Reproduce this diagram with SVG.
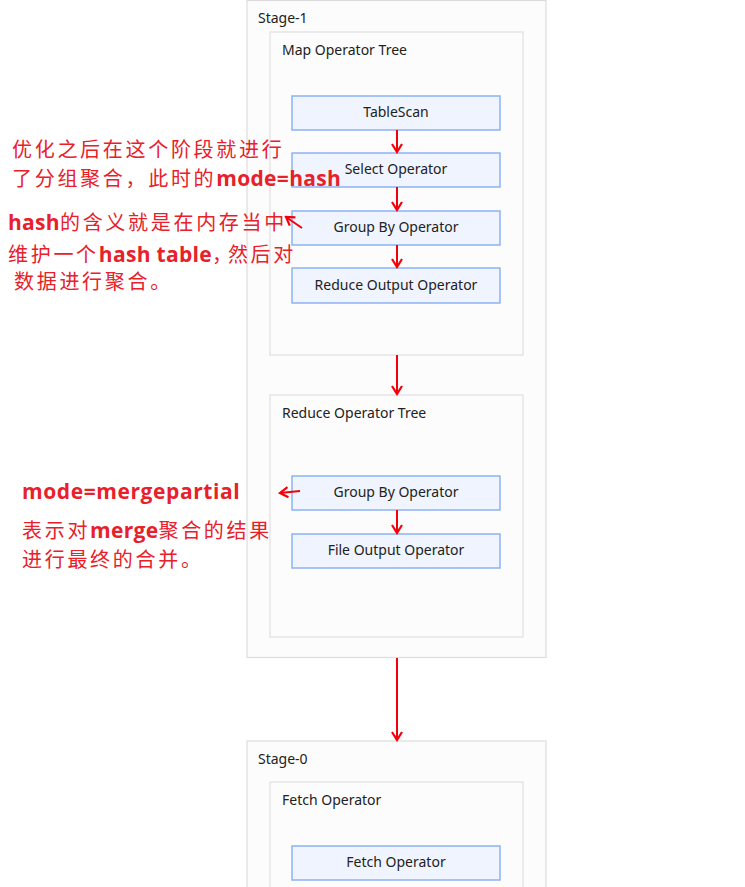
<svg xmlns="http://www.w3.org/2000/svg" width="745" height="887" viewBox="0 0 745 887">
<style>
.stage{fill:#fcfcfc;stroke:#dcdcdc;stroke-width:1.2}
.tree{fill:#fcfcfc;stroke:#e0e0e0;stroke-width:1.2}
.op{fill:#eff4fe;stroke:#8cb2f2;stroke-width:1.5}
.lbl{font-family:"Noto Sans","Open Sans",sans-serif;font-size:14px;fill:#222}
.ctr{text-anchor:middle}
.con{stroke:#f5000a;stroke-width:2;fill:none}
.note{font-family:"Noto Sans CJK SC","Noto Sans",sans-serif;font-size:20px;fill:#e8202a;letter-spacing:2.7px}
.b{font-family:"Open Sans","Noto Sans",sans-serif;font-weight:bold;font-size:21px;letter-spacing:0.3px}
</style>
<defs>
<marker id="ah" markerWidth="12" markerHeight="12" refX="10" refY="6" orient="auto" markerUnits="userSpaceOnUse">
<path d="M2,1 L10,6 L2,11" fill="none" stroke="#f5000a" stroke-width="2.2"/>
</marker>
</defs>
<rect width="745" height="887" fill="#ffffff"/>
<g id="stage1">
<rect class="stage" x="247" y="0.5" width="299" height="657"/>
<text class="lbl" x="258" y="23">Stage-1</text>
</g>
<g id="mapTree">
<rect class="tree" x="270" y="32" width="253" height="323"/>
<text class="lbl" x="282" y="55">Map Operator Tree</text>
</g>
<g id="tableScan">
<rect class="op" x="292" y="96" width="208" height="34"/>
<text class="lbl ctr" x="396" y="117">TableScan</text>
</g>
<g id="select">
<rect class="op" x="292" y="153" width="208" height="34"/>
<text class="lbl ctr" x="396" y="174">Select Operator</text>
</g>
<g id="groupBy1">
<rect class="op" x="292" y="211" width="208" height="34"/>
<text class="lbl ctr" x="396" y="232">Group By Operator</text>
</g>
<g id="reduceOutput">
<rect class="op" x="292" y="268" width="208" height="35"/>
<text class="lbl ctr" x="396" y="290">Reduce Output Operator</text>
</g>
<g id="reduceTree">
<rect class="tree" x="270" y="395" width="253" height="242"/>
<text class="lbl" x="282" y="418">Reduce Operator Tree</text>
</g>
<g id="groupBy2">
<rect class="op" x="292" y="476" width="208" height="34"/>
<text class="lbl ctr" x="396" y="497">Group By Operator</text>
</g>
<g id="fileOutput">
<rect class="op" x="292" y="534" width="208" height="34"/>
<text class="lbl ctr" x="396" y="555">File Output Operator</text>
</g>
<g id="stage0">
<rect class="stage" x="247" y="741" width="299" height="160"/>
<text class="lbl" x="258" y="764">Stage-0</text>
</g>
<g id="fetchTree">
<rect class="tree" x="270" y="782" width="253" height="120"/>
<text class="lbl" x="282" y="805">Fetch Operator</text>
</g>
<g id="fetchOp">
<rect class="op" x="292" y="846" width="208" height="34"/>
<text class="lbl ctr" x="396" y="867">Fetch Operator</text>
</g>
<g id="connectors">
<line class="con" x1="397" y1="130" x2="397" y2="152" marker-end="url(#ah)"/>
<line class="con" x1="397" y1="187" x2="397" y2="210" marker-end="url(#ah)"/>
<line class="con" x1="397" y1="245" x2="397" y2="267" marker-end="url(#ah)"/>
<line class="con" x1="397" y1="355" x2="397" y2="394" marker-end="url(#ah)"/>
<line class="con" x1="397" y1="510" x2="397" y2="533" marker-end="url(#ah)"/>
<line class="con" x1="397" y1="658" x2="397" y2="740" marker-end="url(#ah)"/>
<line class="con" x1="302" y1="228" x2="286" y2="217" marker-end="url(#ah)"/>
<line class="con" x1="300" y1="491" x2="280" y2="493" marker-end="url(#ah)"/>
</g>
<g id="notes">
<text class="note" x="12" y="157">优化之后在这个阶段就进行</text>
<text class="note" x="12" y="186">了分组聚合，此时的<tspan class="b">mode=hash</tspan></text>
<text class="note" x="8" y="230"><tspan class="b">hash</tspan>的含义就是在内存当中</text>
<text class="note" x="8" y="262">维护一个<tspan class="b">hash table</tspan><tspan letter-spacing="-6px">，</tspan><tspan dx="2">然后对</tspan></text>
<text class="note" x="14" y="289">数据进行聚合。</text>
<text class="note" x="22" y="499"><tspan class="b" textLength="218" lengthAdjust="spacing">mode=mergepartial</tspan></text>
<text class="note" x="22" y="538">表示对<tspan class="b">merge</tspan>聚合的结果</text>
<text class="note" x="22" y="567">进行最终的合并。</text>
</g>
</svg>
